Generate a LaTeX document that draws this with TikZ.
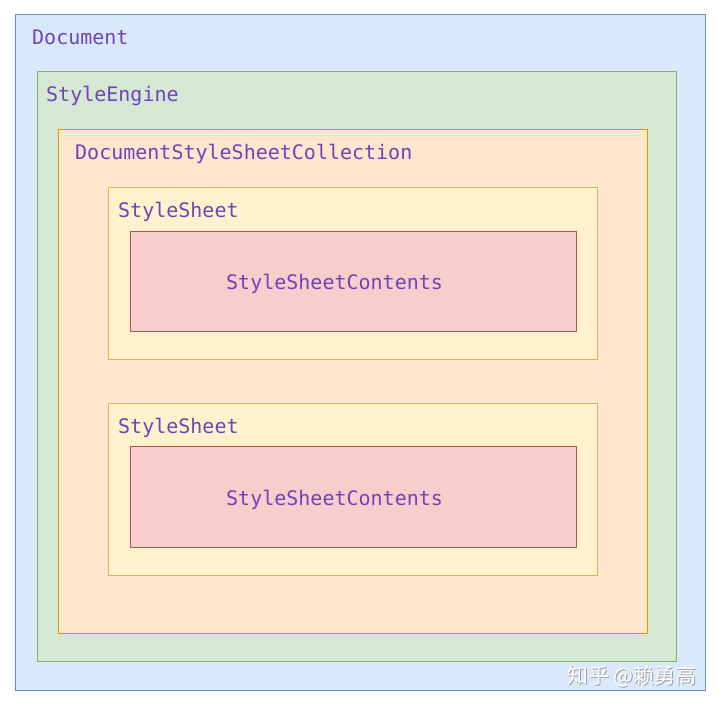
\documentclass[tikz,border=0pt]{standalone}
\usepackage{fontspec}
\setmonofont{DejaVu Sans Mono}
\newfontfamily\cjk{Noto Sans CJK SC}
\definecolor{bluefill}{HTML}{DAE8FC}\definecolor{bluedraw}{HTML}{6C8EBF}
\definecolor{greenfill}{HTML}{D5E8D4}\definecolor{greendraw}{HTML}{82B366}
\definecolor{orangefill}{HTML}{FFE6CC}\definecolor{orangedraw}{HTML}{D79B00}
\definecolor{yellowfill}{HTML}{FFF2CC}\definecolor{yellowdraw}{HTML}{D6B656}
\definecolor{redfill}{HTML}{F8CECC}\definecolor{reddraw}{HTML}{B85450}
\definecolor{txt}{HTML}{6F42BE}
\begin{document}
\begin{tikzpicture}[x=1pt,y=-1pt,
  lbl/.style={anchor=base west,inner sep=0pt,text=txt,font=\ttfamily\fontsize{20}{24}\selectfont},
  bx/.style={line width=1pt}]
\useasboundingbox (0,0) rectangle (720,706);
\draw[bx,fill=bluefill,draw=bluedraw] (15,15) rectangle (705,690);
\draw[bx,fill=greenfill,draw=greendraw] (37,72) rectangle (676,661);
\draw[bx,fill=orangefill,draw=orangedraw] (58,130) rectangle (647,633);
\draw[bx,fill=yellowfill,draw=yellowdraw] (108,187) rectangle (597,359);
\draw[bx,fill=redfill,draw=reddraw] (130,231) rectangle (576,331);
\draw[bx,fill=yellowfill,draw=yellowdraw] (108,403) rectangle (597,575);
\draw[bx,fill=redfill,draw=reddraw] (130,446) rectangle (576,547);
\node[lbl] (ldoc) at (32,45) {Document};
\node[lbl] (leng) at (46,102) {StyleEngine};
\node[lbl] (lcol) at (75,160) {DocumentStyleSheetCollection};
\node[lbl] (ls1) at (118,217) {StyleSheet};
\node[lbl] (lc1) at (226,289) {StyleSheetContents};
\node[lbl] (ls2) at (118,433) {StyleSheet};
\node[lbl] (lc2) at (226,505) {StyleSheetContents};
\node[anchor=base west,inner sep=0pt,text=gray!75,font=\cjk\fontsize{21}{24}\selectfont] (wm0) at (568,684) {知乎 @赖勇高};
\node[anchor=base west,inner sep=0pt,text=white,font=\cjk\fontsize{21}{24}\selectfont] (wm) at (567,683) {知乎 @赖勇高};
\end{tikzpicture}
\end{document}
